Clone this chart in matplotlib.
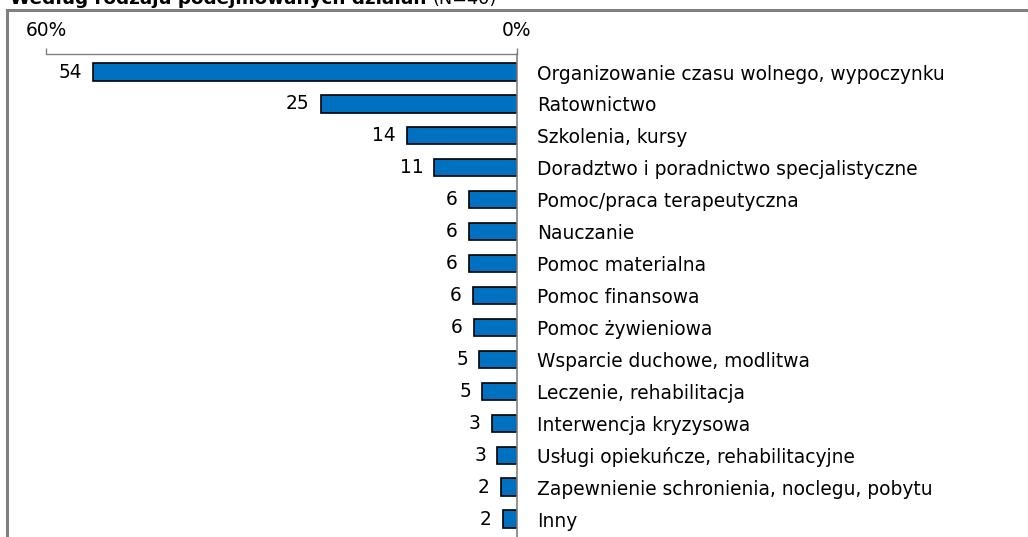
import matplotlib.pyplot as plt
from matplotlib.lines import Line2D

kategorie = ["Organizowanie czasu wolnego, wypoczynku", "Ratownictwo", "Szkolenia, kursy",
             "Doradztwo i poradnictwo specjalistyczne", "Pomoc/praca terapeutyczna", "Nauczanie",
             "Pomoc materialna", "Pomoc finansowa", "Pomoc żywieniowa", "Wsparcie duchowe, modlitwa",
             "Leczenie, rehabilitacja", "Interwencja kryzysowa", "Usługi opiekuńcze, rehabilitacyjne",
             "Zapewnienie schronienia, noclegu, pobytu", "Inny"]
wartosci = [54, 25, 14, 10.5, 6.1, 6.1, 6.1, 5.6, 5.5, 4.8, 4.4, 3.2, 2.5, 2.0, 1.8]
etykiety = [54, 25, 14, 11, 6, 6, 6, 6, 6, 5, 5, 3, 3, 2, 2]
ticki = [60, 0]
tick_labels = ["60%", "0%"]

W, H = 1028, 537
FS = 13.4
plt.rcParams['font.family'] = ['DejaVu Sans']
fig = plt.figure(figsize=(W / 100, H / 100), dpi=100)

# ramka
szary = "#808080"
fig.add_artist(Line2D([7 / W, 7 / W], [0, 1 - 10 / H], color=szary, lw=2.2))
fig.add_artist(Line2D([7 / W, 1.0], [1 - 10 / H, 1 - 10 / H], color=szary, lw=2.2))

# tytul (uciety u gory)
t1 = fig.text(10 / W, 1 - 4 / H, "Według rodzaju podejmowanych działań ", fontsize=13.2,
              fontweight="bold", va="baseline", ha="left")
fig.canvas.draw()
bb = t1.get_window_extent()
fig.text(bb.x1 / W, 1 - 4 / H, "(N=40)", fontsize=12.8, va="baseline", ha="left")

x60, x0 = 46.3, 516.7
top_px = 54
ax = fig.add_axes([x60 / W, 0, (x0 - x60) / W, (H - top_px) / H])

y = list(range(len(kategorie)))
ax.barh(y, wartosci, height=0.54, color="#0070C0", edgecolor="black", linewidth=1.2)
for yi, v, e in zip(y, wartosci, etykiety):
    ax.annotate(str(e), (v, yi), xytext=(-8, 0), textcoords="offset points",
                ha="right", va="center", fontsize=FS)

ax.set_xlim(60, 0)
row = 31.93
ax.set_ylim((H - 72) / row, -(72 - top_px) / row)

ax.xaxis.tick_top()
ax.set_xticks(ticki)
ax.set_xticklabels(tick_labels, fontsize=FS)
ax.tick_params(axis="x", direction="out", length=4, width=1, color=szary, pad=6)

ax.yaxis.tick_right()
ax.set_yticks(y)
ax.set_yticklabels(kategorie, fontsize=FS)
ax.tick_params(axis="y", length=0, pad=14.5)

for s in ["left", "bottom"]:
    ax.spines[s].set_visible(False)
ax.spines["top"].set_color(szary)
ax.spines["right"].set_color(szary)
ax.spines["top"].set_linewidth(1)
ax.spines["right"].set_linewidth(1.2)

fig.savefig("out.png", dpi=100)
